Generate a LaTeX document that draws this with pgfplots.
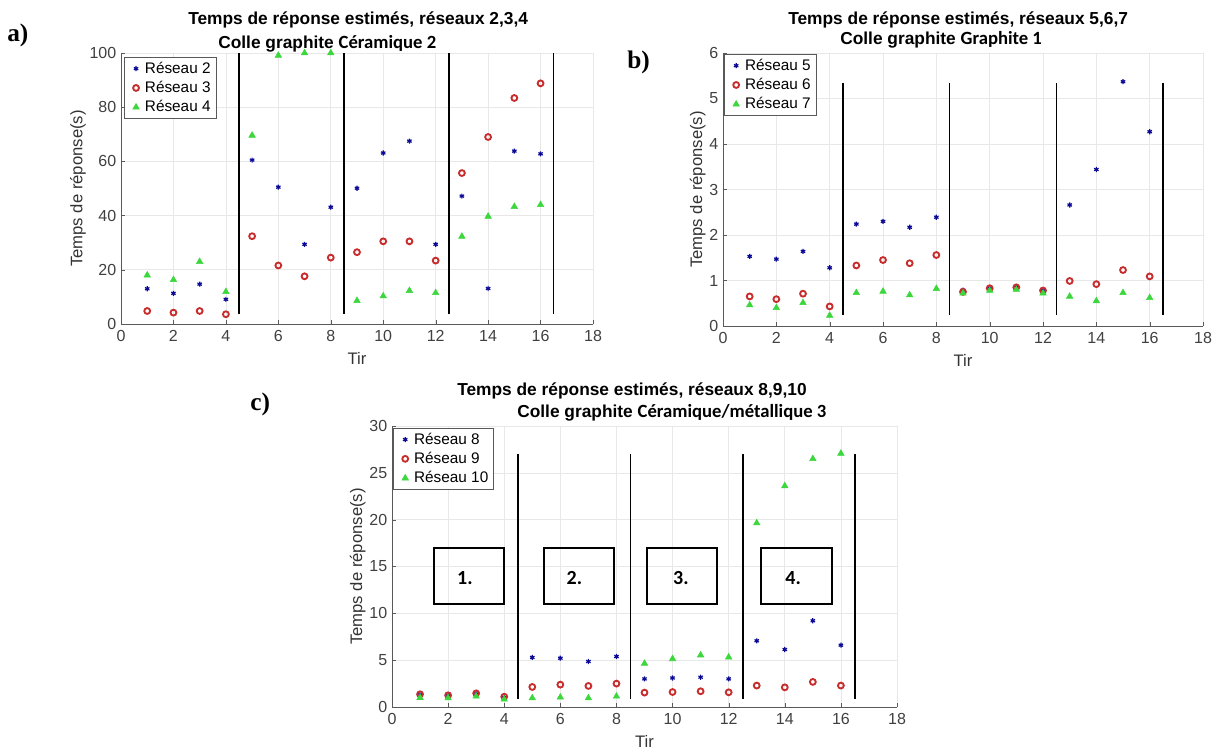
\documentclass[border=0pt]{standalone}
\usepackage{fontspec}
\setmainfont{Liberation Sans}
\newfontfamily\calibri{Carlito}
\newfontfamily\timesfont{Liberation Serif}
\usepackage{pgfplots}
\usepackage{pgfplotstable}
\pgfplotsset{compat=1.18}

\definecolor{mblue}{RGB}{10,10,150}
\definecolor{mred}{RGB}{200,45,45}
\definecolor{mgreen}{RGB}{60,215,60}

% panel a: reseaux 2,3,4
\pgfplotstableread{
x  r1    r2    r3
1  13.0  4.8   18.0
2  11.3  4.2   16.3
3  14.7  4.8   23.0
4  9.1   3.6   11.9
5  60.5  32.4  69.6
6  50.5  21.6  99.1
7  29.4  17.6  100
8  43.1  24.5  100
9  50.1  26.5  8.6
10 63.1  30.5  10.3
11 67.5  30.5  12.3
12 29.4  23.4  11.5
13 47.2  55.7  32.3
14 13.1  69.0  39.7
15 63.8  83.4  43.3
16 62.8  88.8  44.0
}\dataA

% panel b: reseaux 5,6,7
\pgfplotstableread{
x  r1    r2    r3
1  1.53  0.65  0.46
2  1.47  0.59  0.40
3  1.64  0.71  0.51
4  1.28  0.43  0.23
5  2.24  1.33  0.73
6  2.30  1.45  0.76
7  2.17  1.38  0.68
8  2.39  1.56  0.82
9  0.79  0.75  0.72
10 0.83  0.83  0.78
11 0.85  0.85  0.80
12 0.78  0.78  0.72
13 2.66  0.99  0.65
14 3.44  0.92  0.55
15 5.37  1.23  0.73
16 4.27  1.09  0.62
}\dataB

% panel c: reseaux 8,9,10
\pgfplotstableread{
x  r1    r2    r3
1  1.3   1.36  1.00
2  1.2   1.25  0.96
3  1.4   1.46  1.14
4  1.0   1.10  0.82
5  5.29  2.14  0.96
6  5.21  2.39  1.04
7  4.86  2.25  0.96
8  5.39  2.50  1.14
9  3.00  1.54  4.64
10 3.10  1.60  5.14
11 3.18  1.68  5.54
12 3.00  1.57  5.32
13 7.07  2.29  19.64
14 6.14  2.10  23.60
15 9.21  2.68  26.50
16 6.60  2.29  27.07
}\dataC

\pgfplotsset{
  panel/.style={
    scale only axis, anchor=north west,
    xmin=0, xmax=18, ymin=0, xtick={0,2,...,18},
    axis x line=bottom, axis y line=left,
    axis line style={-, draw=black!65, line width=0.6pt},
    tick align=inside, major tick length=3pt, tick style={black!65},
    grid=major, grid style={black!9, line width=0.5pt},
    ticklabel style={font=\fontsize{12}{14}\selectfont, text=black!75},
    xticklabel style={yshift=-1.5pt},
    /pgf/number format/assume math mode=true,
    xlabel={Tir}, ylabel={Temps de réponse(s)},
    xlabel shift=1pt, ylabel shift=-4pt,
    label style={font=\fontsize{12.5}{15}\selectfont, text=black!80},
    legend style={font=\fontsize{11.5}{13}\selectfont, draw=black!65, fill=white,
      anchor=north west, inner xsep=2pt, inner ysep=1.5pt, row sep=0.5pt},
    legend cell align=left,
    legend image code/.code={\path (0cm,0cm) (0.36cm,0cm);
      \draw[##1] plot coordinates {(0.22cm,0cm)};},
  },
  s1/.style={only marks, mark=asterisk, mark size=1.9pt, line width=0.9pt, mblue},
  s2/.style={only marks, mark=o, mark size=2.2pt, line width=1.4pt, mred},
  s3/.style={only marks, mark=triangle*, mark size=2.8pt, mgreen},
  sep/.style={black, line width=1.2pt, forget plot, no marks},
}

\begin{document}
\begin{tikzpicture}
\path[use as bounding box] (0,0) rectangle (914.25pt,-564.75pt);

% panel labels
\node[anchor=base west, font=\timesfont\bfseries\fontsize{19}{20}\selectfont, inner sep=0] at (5.25pt,-30.75pt) {a)};
\node[anchor=base west, font=\timesfont\bfseries\fontsize{19}{20}\selectfont, inner sep=0] at (470.25pt,-51pt) {b)};
\node[anchor=base west, font=\timesfont\bfseries\fontsize{19}{20}\selectfont, inner sep=0] at (187.5pt,-307.5pt) {c)};

% titles
\node[anchor=base west, font=\bfseries\fontsize{13}{15}\selectfont, inner sep=0] at (141pt,-18pt) {Temps de réponse estimés, réseaux 2,3,4};
\node[anchor=base west, font=\bfseries\fontsize{13}{15}\selectfont, inner sep=0] at (163.5pt,-36pt) {Colle graphite {\calibri\fontsize{14}{15}\selectfont Céramique 2}};
\node[anchor=base west, font=\bfseries\fontsize{13}{15}\selectfont, inner sep=0] at (591pt,-18pt) {Temps de réponse estimés, réseaux 5,6,7};
\node[anchor=base west, font=\bfseries\fontsize{13}{15}\selectfont, inner sep=0] at (630pt,-33pt) {Colle graphite {\calibri\fontsize{14}{15}\selectfont Graphite 1}};
\node[anchor=base west, font=\bfseries\fontsize{13}{15}\selectfont, inner sep=0] at (342.75pt,-296.25pt) {Temps de réponse estimés, réseaux 8,9,10};
\node[anchor=base west, font=\bfseries\fontsize{13}{15}\selectfont, inner sep=0] at (387.75pt,-312.75pt) {Colle graphite {\calibri\fontsize{14}{15}\selectfont Céramique/métallique 3}};

% a)
\begin{axis}[panel, at={(90.75pt,-39.75pt)}, width=354pt, height=203.25pt,
  ymax=100, ytick={0,20,...,100},
  legend style={at={(0.006,0.985)}}]
\addplot[s1] table[x=x, y=r1] {\dataA};
\addplot[s2] table[x=x, y=r2] {\dataA};
\addplot[s3] table[x=x, y=r3] {\dataA};
\addplot[sep] coordinates {(4.5,3.6) (4.5,100)};
\addplot[sep] coordinates {(8.5,3.6) (8.5,100)};
\addplot[sep] coordinates {(12.5,3.6) (12.5,100)};
\addplot[sep] coordinates {(16.5,3.6) (16.5,100)};
\legend{Réseau 2, Réseau 3, Réseau 4}
\end{axis}

% b)
\begin{axis}[panel, at={(542.25pt,-39.75pt)}, width=360pt, height=204.75pt,
  ymax=6, ytick={0,1,...,6},
  legend style={at={(0.002,0.996)}}]
\addplot[s1] table[x=x, y=r1] {\dataB};
\addplot[s2] table[x=x, y=r2] {\dataB};
\addplot[s3] table[x=x, y=r3] {\dataB};
\addplot[sep] coordinates {(4.5,0.25) (4.5,5.35)};
\addplot[sep] coordinates {(8.5,0.25) (8.5,5.35)};
\addplot[sep] coordinates {(12.5,0.25) (12.5,5.35)};
\addplot[sep] coordinates {(16.5,0.25) (16.5,5.35)};
\legend{Réseau 5, Réseau 6, Réseau 7}
\end{axis}

% c)
\begin{axis}[panel, at={(294pt,-319.5pt)}, width=378.75pt, height=210.75pt,
  ymax=30, ytick={0,5,...,30},
  legend style={at={(0.002,0.993)}}]
\addplot[s1] table[x=x, y=r1] {\dataC};
\addplot[s2] table[x=x, y=r2] {\dataC};
\addplot[s3] table[x=x, y=r3] {\dataC};
\addplot[sep] coordinates {(4.5,0.9) (4.5,27)};
\addplot[sep] coordinates {(8.5,0.9) (8.5,27)};
\addplot[sep] coordinates {(12.5,0.9) (12.5,27)};
\addplot[sep] coordinates {(16.5,0.9) (16.5,27)};
\legend{Réseau 8, Réseau 9, Réseau 10}
\draw[line width=1.5pt] (axis cs:1.5,11) rectangle (axis cs:4.0,17);
\draw[line width=1.5pt] (axis cs:5.4,11) rectangle (axis cs:7.9,17);
\draw[line width=1.5pt] (axis cs:9.1,11) rectangle (axis cs:11.6,17);
\draw[line width=1.5pt] (axis cs:13.15,11) rectangle (axis cs:15.7,17);
\node[font=\calibri\bfseries\fontsize{15}{16}\selectfont] at (axis cs:2.6,13.8) {1.};
\node[font=\calibri\bfseries\fontsize{15}{16}\selectfont] at (axis cs:6.5,13.8) {2.};
\node[font=\calibri\bfseries\fontsize{15}{16}\selectfont] at (axis cs:10.3,13.8) {3.};
\node[font=\calibri\bfseries\fontsize{15}{16}\selectfont] at (axis cs:14.3,13.8) {4.};
\end{axis}
\end{tikzpicture}
\end{document}
